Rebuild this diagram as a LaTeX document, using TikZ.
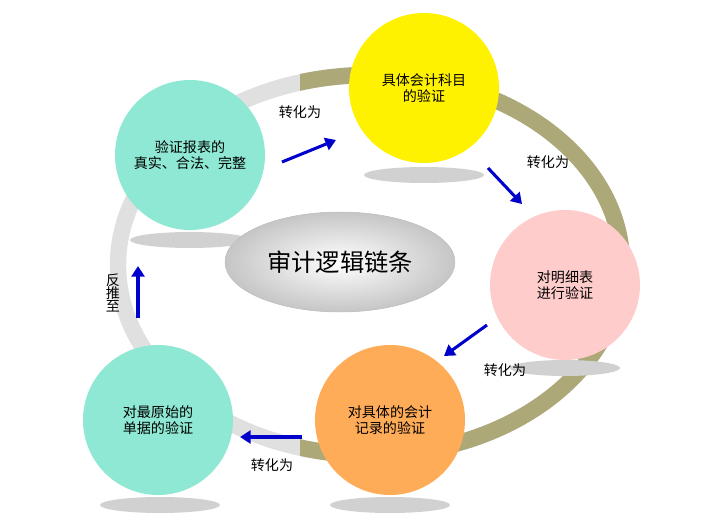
\documentclass[tikz,border=0pt]{standalone}
\usepackage{fontspec}
\newfontfamily\cjk{Noto Sans CJK SC}
\usetikzlibrary{arrows.meta}
\begin{document}
\begin{tikzpicture}[x=0.03cm,y=-0.03cm]
\tikzstyle{every node} = [font=\cjk\large, align=center]
\tikzstyle{stage} = [circle, draw=none, minimum size=150*0.03cm]
\tikzstyle{shade} = [fill=black!18, draw=none]
\tikzstyle{flow} = [draw=blue!80!black, line width=2.6pt, -{Triangle[length=9pt,width=11pt]}]
\definecolor{teal}{RGB}{142,232,212}
\useasboundingbox (0,0) rectangle (718,530);
% ring
\draw[line width=14pt, color=black!12] (370,265) ellipse (252 and 190);
\begin{scope}
\clip (300,0) rectangle (718,530);
\draw[line width=14pt, color=olive!40!gray!75] (370,265) ellipse (252 and 190);
\end{scope}
% shadows
\fill[shade] (424,175) ellipse (60 and 8);
\fill[shade] (190,240) ellipse (60 and 8);
\fill[shade] (565,368) ellipse (55 and 8);
\fill[shade] (390,505) ellipse (60 and 8);
\fill[shade] (160,505) ellipse (60 and 8);
% centre
\shade[inner color=white, outer color=gray!45, draw=gray!50] (340,262) ellipse (115 and 50);
\node[font=\cjk\huge] (title) at (340,262) {审计逻辑链条};
% stages
\node[stage, fill=yellow] (subject) at (424,88) {具体会计科目\\的验证};
\node[stage, fill=teal] (report) at (190,155) {验证报表的\\真实、合法、完整};
\node[stage, fill=pink!80] (detail) at (565,285) {对明细表\\进行验证};
\node[stage, fill=orange!65] (record) at (390,420) {对具体的会计\\记录的验证};
\node[stage, fill=teal] (voucher) at (158,420) {对最原始的\\单据的验证};
% arrows
\coordinate (a1) at (282,162); \coordinate (b1) at (336,140);
\coordinate (a2) at (488,168); \coordinate (b2) at (522,204);
\coordinate (a3) at (487,325); \coordinate (b3) at (444,356);
\coordinate (a4) at (302,437); \coordinate (b4) at (240,437);
\coordinate (a5) at (138,318); \coordinate (b5) at (138,266);
\draw[flow] (a1) -- (b1);
\draw[flow] (a2) -- (b2);
\draw[flow] (a3) -- (b3);
\draw[flow] (a4) -- (b4);
\draw[flow] (a5) -- (b5);
% labels
\node (l1) at (300,112) {转化为};
\node (l2) at (548,162) {转化为};
\node (l3) at (505,370) {转化为};
\node (l4) at (272,465) {转化为};
\node[inner sep=0pt, font=\cjk\large\linespread{0.8}\selectfont] (l5) at (113,293) {反\\推\\至};
\end{tikzpicture}
\end{document}
